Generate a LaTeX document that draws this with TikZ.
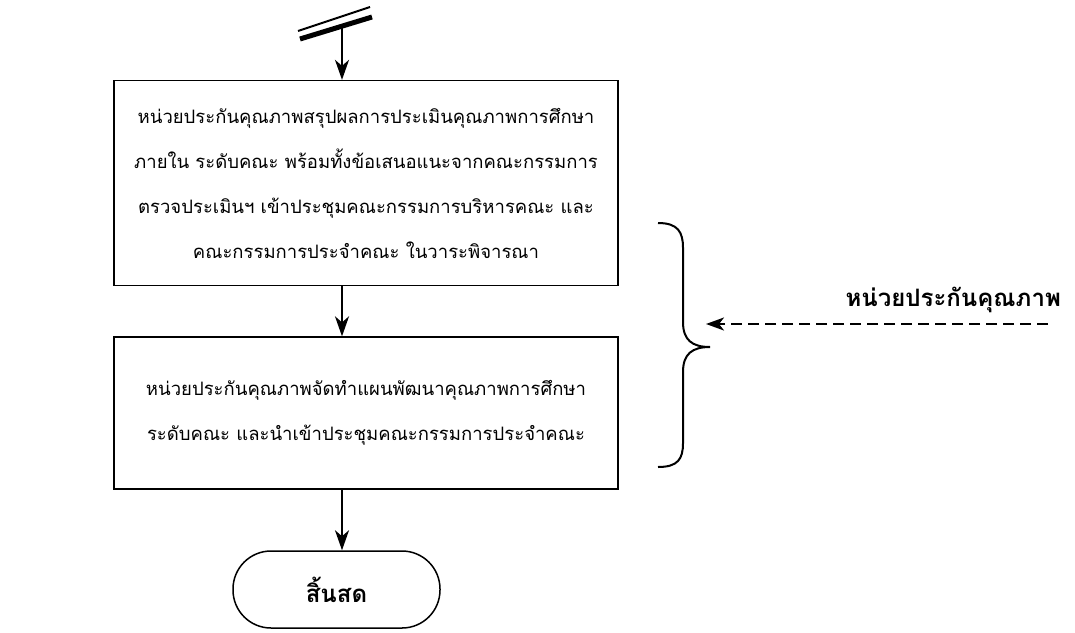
\documentclass[tikz,border=0pt]{standalone}
\usepackage{fontspec}
\newfontfamily\thaifont[Script=Thai]{Loma}
\usetikzlibrary{arrows.meta}
\begin{document}
\begin{tikzpicture}[x=1pt,y=-1pt,
  flowbox/.style={draw, line width=1.3pt, minimum width=504pt, align=center, inner sep=0pt,
    font=\thaifont\fontsize{18.5}{45}\selectfont},
  conn/.style={line width=2.2pt, -{Stealth[length=20pt,width=14pt,inset=6pt]}},
  endbox/.style={draw, line width=1.5pt, rounded corners=38pt, minimum width=207pt, minimum height=77pt,
    font=\thaifont\bfseries\fontsize{24}{28}\selectfont},
  lbl/.style={font=\thaifont\bfseries\fontsize{24}{28}\selectfont, inner sep=0pt},
  bracepath/.style={line width=2pt}]
\useasboundingbox (0,0) rectangle (1075,632);
% off-page connector symbol
\draw[line width=2pt] (298,31) -- (370,7);
\draw[line width=5pt] (300,39) -- (372,17);
\coordinate (top) at (342,28);
\node[flowbox, minimum height=205pt] (b1) at (366,183)
  {หน่วยประกันคุณภาพสรุปผลการประเมินคุณภาพการศึกษา\\
   ภายใน ระดับคณะ พร้อมทั้งข้อเสนอแนะจากคณะกรรมการ\\
   ตรวจประเมินฯ เข้าประชุมคณะกรรมการบริหารคณะ และ\\
   คณะกรรมการประจำคณะ ในวาระพิจารณา};
\node[flowbox, minimum height=152pt] (b2) at (366,413)
  {หน่วยประกันคุณภาพจัดทำแผนพัฒนาคุณภาพการศึกษา\\
   ระดับคณะ และนำเข้าประชุมคณะกรรมการประจำคณะ};
\node[endbox] (end) at (336.5,589.5) {สิ้นสด};
\draw[conn] (top) -- (top |- b1.north);
\draw[conn] (b1.south -| top) -- (b2.north -| top);
\draw[conn] (b2.south -| top) -- (end.north -| top);
% brace
\coordinate (bt) at (658,223);
\coordinate (tip) at (710,347);
\coordinate (bb) at (658,467);
\draw[bracepath] (bt) .. controls (678,223) and (683,232) .. (683,248)
  -- (683,322) .. controls (683,340) and (692,347) .. (tip)
  .. controls (692,347) and (683,354) .. (683,372)
  -- (683,443) .. controls (683,459) and (678,467) .. (bb);
% dashed arrow with label
\coordinate (dstart) at (1048,324);
\coordinate (dend) at (706,324);
\draw[line width=2.2pt, dash pattern=on 11pt off 6pt, -{Stealth[length=18pt,width=13pt,inset=5pt]}] (dstart) -- (dend);
\node[lbl, anchor=south east] (qa) at (1061,313) {หน่วยประกันคุณภาพ};
\end{tikzpicture}
\end{document}
